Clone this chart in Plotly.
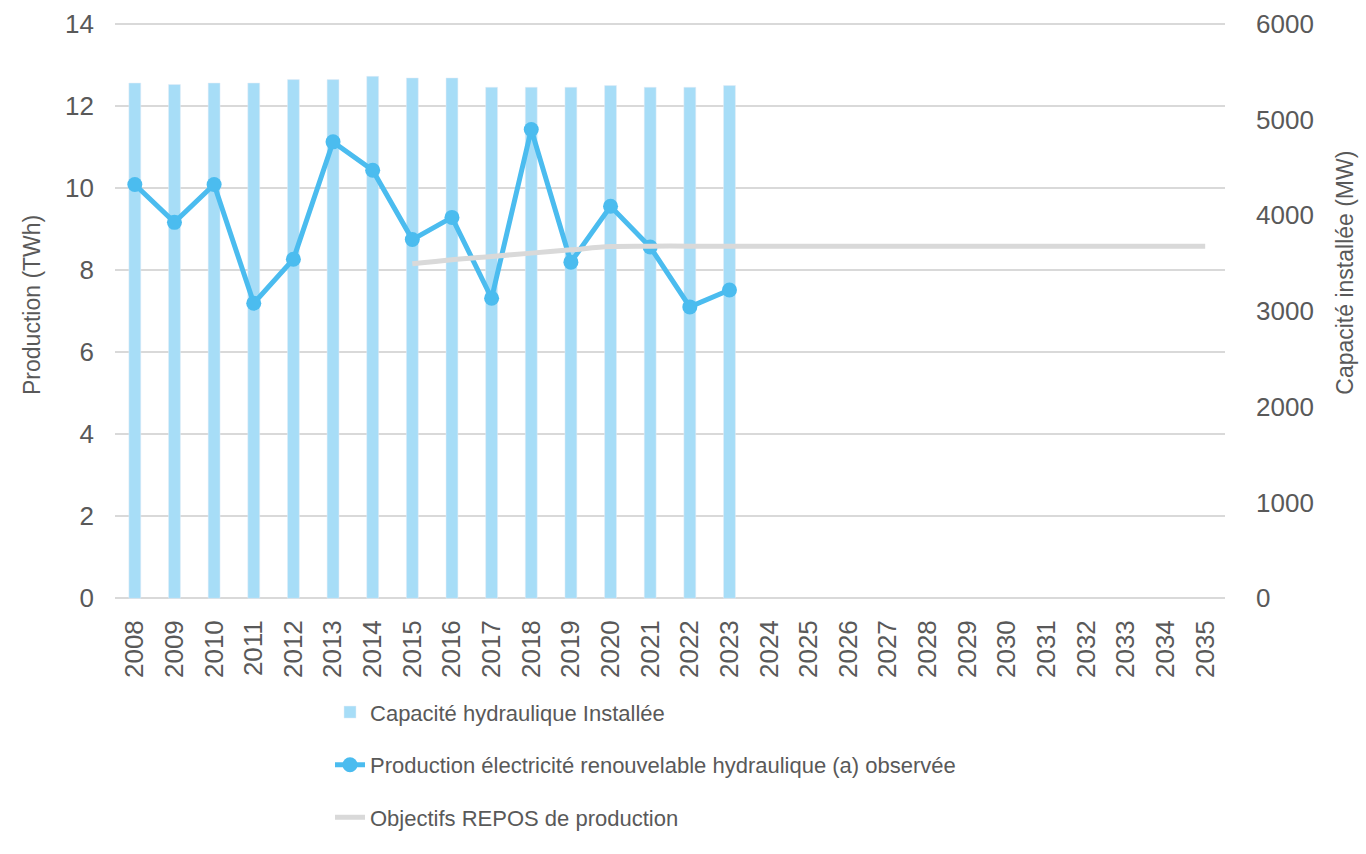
import plotly.graph_objects as go

# Years on the x axis
years = [str(y) for y in range(2008, 2036)]

# Installed hydraulic capacity (MW), right axis
capacity_years = [str(y) for y in range(2008, 2024)]
capacity_mw = [5380, 5364, 5380, 5380, 5416, 5416, 5450, 5433,
               5433, 5336, 5336, 5336, 5353, 5336, 5336, 5353]

# Observed hydraulic production (TWh), left axis
production_years = [str(y) for y in range(2008, 2024)]
production_twh = [10.08, 9.16, 10.08, 7.19, 8.26, 11.12, 10.43, 8.74,
                  9.28, 7.31, 11.42, 8.19, 9.55, 8.56, 7.10, 7.51]

# REPOS production targets (TWh)
repos_years = [str(y) for y in range(2015, 2036)]
repos_twh = [8.15, 8.25, 8.33, 8.41, 8.49, 8.57, 8.58, 8.58, 8.58, 8.58,
             8.58, 8.58, 8.58, 8.58, 8.58, 8.58, 8.58, 8.58, 8.58, 8.58, 8.58]

grey = '#595959'
tick_font = dict(family='Liberation Sans', size=26, color=grey)
title_font = dict(family='Liberation Sans', size=23, color=grey)

fig = go.Figure()

# Bars sit on the primary axis so the lines (overlay axis) draw above them
fig.add_trace(go.Bar(
    name='Capacité hydraulique Installée', x=capacity_years, y=capacity_mw,
    marker_color='#A7DDF7', yaxis='y', legendgroup='a',
))
fig.add_trace(go.Scatter(
    name='Production électricité renouvelable hydraulique (a) observée',
    x=production_years, y=production_twh, mode='lines+markers',
    line=dict(color='#4BBCEF', width=5), marker=dict(size=15, color='#4BBCEF'),
    yaxis='y2', legendgroup='b',
))
fig.add_trace(go.Scatter(
    name='Objectifs REPOS de production', x=repos_years, y=repos_twh,
    mode='lines', line=dict(color='#D9D9D9', width=5, shape='spline'),
    yaxis='y2', legendgroup='c',
))

fig.update_layout(
    width=1366, height=854,
    margin=dict(l=115, r=141, t=22, b=254),
    plot_bgcolor='white', paper_bgcolor='white',
    bargap=0.7,
    legend=dict(
        x=0.1937, y=-0.158, xanchor='left', yanchor='top',
        font=dict(family='Liberation Sans', size=22, color=grey),
        tracegroupgap=21, bgcolor='rgba(0,0,0,0)',
    ),
    xaxis=dict(
        categoryorder='array', categoryarray=years, type='category',
        tickmode='linear', dtick=1,
        tickangle=-90, tickfont=tick_font, ticklabelstandoff=14,
        showgrid=False, showline=False, range=[-0.5, 27.5], automargin=False,
    ),
    # small padding on the ranges so the 0 and top grid lines are drawn
    yaxis=dict(
        side='right', range=[-17.1, 6017.1], tick0=0, dtick=1000, showgrid=False,
        zeroline=False, tickfont=tick_font, ticklabelstandoff=30,
        automargin=False,
    ),
    yaxis2=dict(
        side='left', overlaying='y', range=[-0.04, 14.04], tick0=0, dtick=2,
        showgrid=True, gridcolor='#D9D9D9', gridwidth=2, zeroline=False,
        tickfont=tick_font, ticklabelstandoff=20, automargin=False,
    ),
    annotations=[
        dict(text='Production (TWh)', textangle=-90, font=title_font,
             xref='paper', yref='paper', x=-0.075, y=0.51,
             xanchor='center', yanchor='middle', showarrow=False),
        dict(text='Capacité installée (MW)', textangle=-90, font=title_font,
             xref='paper', yref='paper', x=1.108, y=0.566,
             xanchor='center', yanchor='middle', showarrow=False),
    ],
)

# drop the browser's default body margin so the figure fills the window
fig.write_html("out.html", config={'displayModeBar': False},
               post_script="document.body.style.margin='0';")
